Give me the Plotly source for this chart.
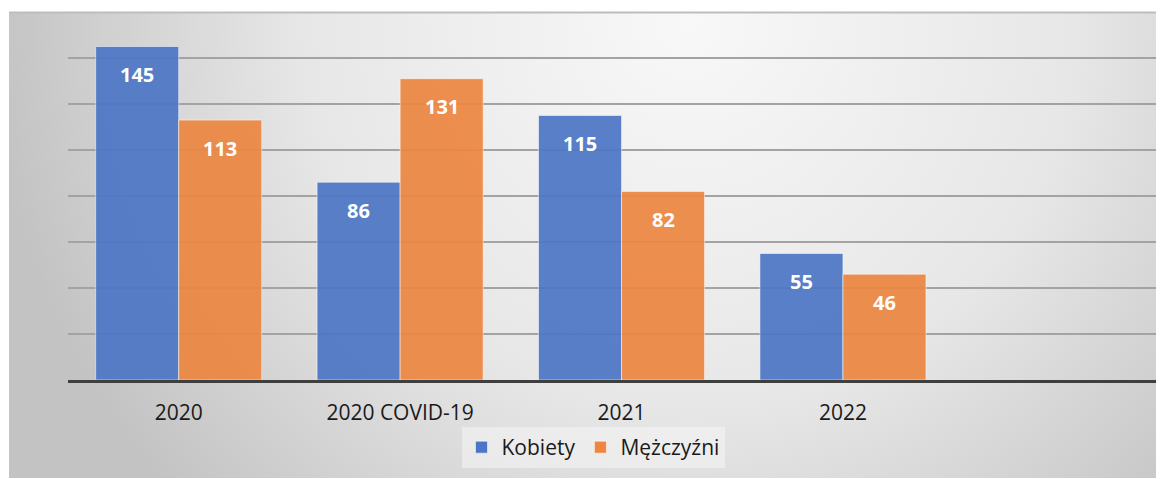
import plotly.graph_objects as go
import urllib.parse

categories = ["2020", "2020 COVID-19", "2021", "2022"]
kobiety = [145, 86, 115, 55]
mezczyzni = [113, 131, 82, 46]
series_names = ["Kobiety", "Mężczyźni"]

BLUE = "#4C76C5"
ORANGE = "#EC8640"

# page body has an 8px default margin: work in reference pixels and shift
OFF = 8
W, H = 1164 - OFF, 479 - OFF
L = 68 - OFF
T = 12 - OFF
AXIS_Y = 380 - OFF
B = H - AXIS_Y
R = 0
pw = W - L - R
ph = H - T - B

def px_x(p):
    return (p - OFF - L) / pw

def px_y(p):
    return (H - B - (p - OFF)) / ph

fig = go.Figure()
for name, vals, col in [(series_names[0], kobiety, BLUE), (series_names[1], mezczyzni, ORANGE)]:
    fig.add_trace(go.Bar(
        name=name, x=categories, y=vals,
        marker=dict(color=col, opacity=0.92, line=dict(color="rgba(255,255,255,0.55)", width=1)),
        hoverinfo="x+y+name",
    ))

# value labels near the top of each bar (x as category index)
for vals, xs in [(kobiety, -41.5), (mezczyzni, 41.5)]:
    for i, v in enumerate(vals):
        fig.add_annotation(x=i, y=v, xref="x", yref="y", text=f"<b>{v}</b>", showarrow=False,
                           xshift=xs, yshift=-28, yanchor="middle",
                           font=dict(family="Open Sans", size=20, color="white"))

# gradient background via svg
svg = ('<svg xmlns="http://www.w3.org/2000/svg" width="1155" height="466" viewBox="0 0 1155 466">'
       '<defs><radialGradient id="g" gradientUnits="userSpaceOnUse" cx="680" cy="10" r="700">'
       '<stop offset="0" stop-color="#F8F8F8"/><stop offset="0.55" stop-color="#E7E7E7"/>'
       '<stop offset="1" stop-color="#C3C3C3"/></radialGradient></defs>'
       '<rect width="1155" height="466" fill="url(#g)"/></svg>')
src = "data:image/svg+xml;charset=utf-8," + urllib.parse.quote(svg)

fig.add_layout_image(dict(source=src, xref="paper", yref="paper",
                          x=px_x(9), y=px_y(12), sizex=px_x(1164) - px_x(9), sizey=px_y(12) - px_y(478),
                          xanchor="left", yanchor="top", sizing="stretch", layer="below"))

fig.add_shape(type="line", xref="paper", yref="paper", x0=px_x(9), x1=1, y0=px_y(12.5), y1=px_y(12.5),
              line=dict(color="#BDBDBD", width=2), layer="below")

fig.update_layout(
    width=W, height=H,
    margin=dict(l=L, r=R, t=T, b=B),
    paper_bgcolor="white", plot_bgcolor="rgba(0,0,0,0)",
    barmode="group", bargap=0.25, bargroupgap=0,
    font=dict(family="Open Sans", color="#1A1A1A"),
    showlegend=True,
    legend=dict(orientation="h", x=px_x(593), xanchor="center", y=px_y(427), yanchor="top",
                bgcolor="rgba(245,245,245,0.55)", font=dict(size=21, color="#1A1A1A"),
                itemwidth=30, traceorder="normal"),
)
fig.update_xaxes(type="category", range=[-0.5, 4.45], showline=True, linecolor="#3F3F3F", linewidth=3,
                 showgrid=False, ticks="", ticklabelstandoff=12, tickfont=dict(size=21, color="#1A1A1A"),
                 fixedrange=True)
fig.update_yaxes(range=[0, 160], dtick=20, showticklabels=False, showgrid=True, gridcolor="#A3A3A3",
                 gridwidth=1.5, zeroline=False, showline=False, fixedrange=True)

fig.write_html("out.html")
